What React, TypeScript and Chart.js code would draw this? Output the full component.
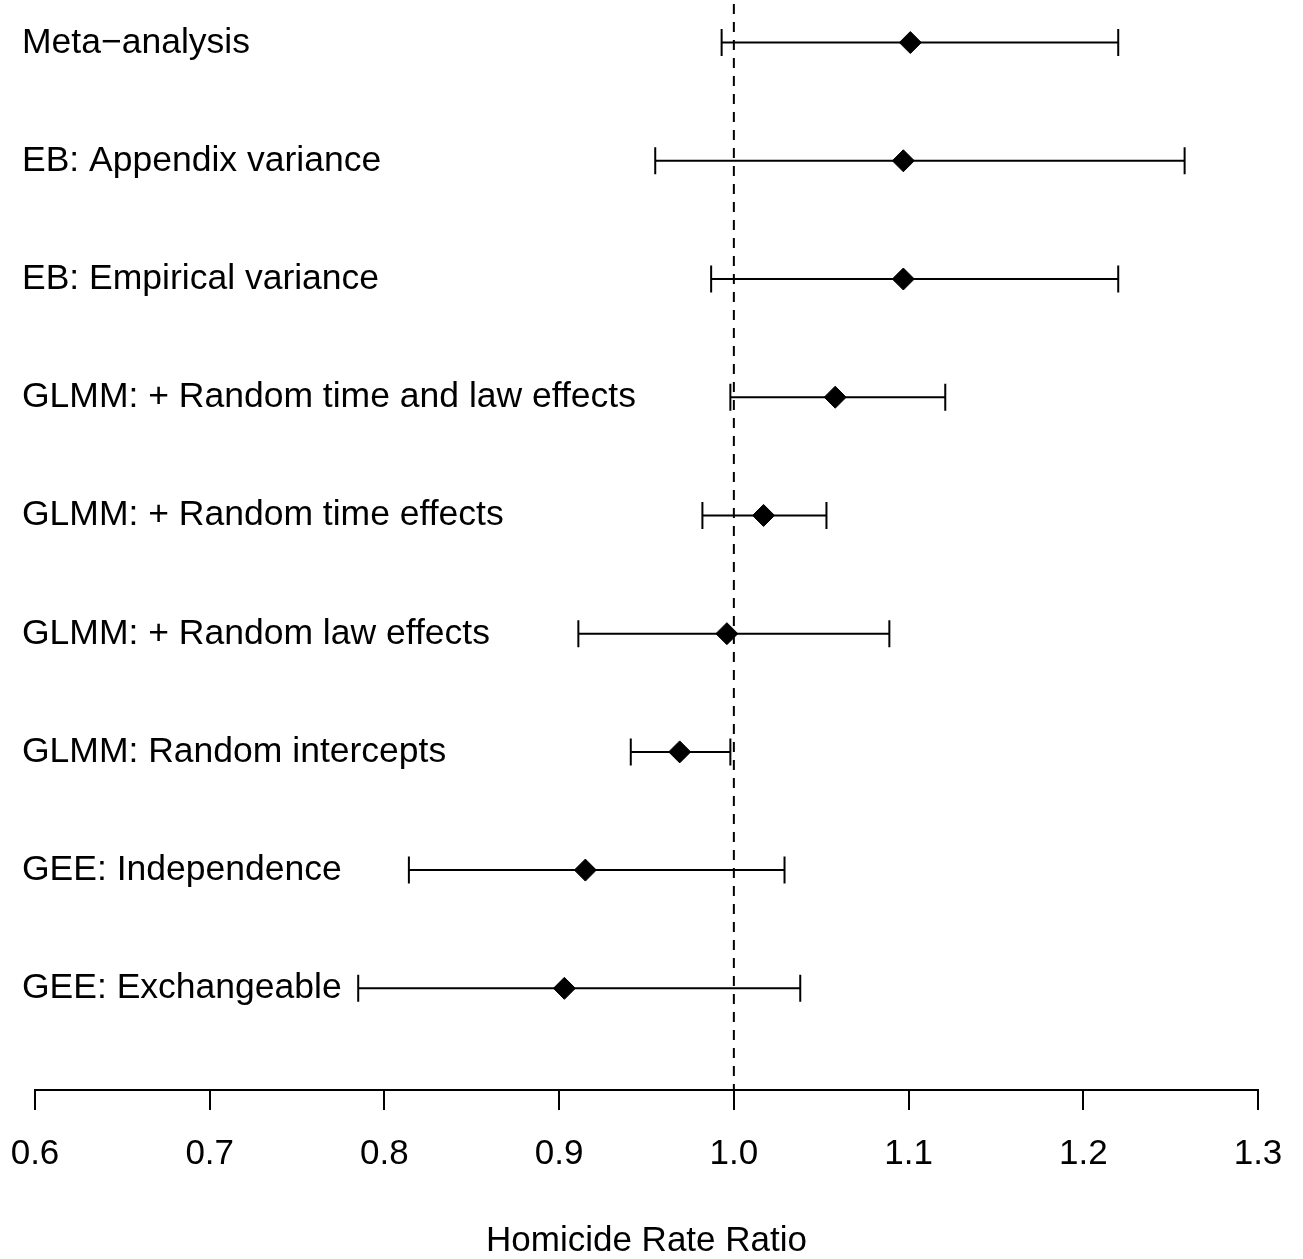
import React, { useEffect, useRef } from "react";
import { Chart, registerables } from "chart.js";

Chart.register(...registerables);

const categories: string[] = [
  "Meta\u2212analysis",
  "EB: Appendix variance",
  "EB: Empirical variance",
  "GLMM: + Random time and law effects",
  "GLMM: + Random time effects",
  "GLMM: + Random law effects",
  "GLMM: Random intercepts",
  "GEE: Independence",
  "GEE: Exchangeable",
];
const estimates: number[] = [1.101, 1.097, 1.097, 1.058, 1.017, 0.996, 0.969, 0.915, 0.903];
const lowerCI: number[] = [0.993, 0.955, 0.987, 0.998, 0.982, 0.911, 0.941, 0.814, 0.785];
const upperCI: number[] = [1.220, 1.258, 1.220, 1.121, 1.053, 1.089, 0.998, 1.029, 1.038];
const referenceValue = 1.0;
const xTicks: number[] = [0.6, 0.7, 0.8, 0.9, 1.0, 1.1, 1.2, 1.3];
const xTitle = "Homicide Rate Ratio";

const FONT = "'Liberation Sans', Arial, Helvetica, sans-serif";

const refLinePlugin = {
  id: "refLine",
  beforeDatasetsDraw(chart: any) {
    const { ctx, chartArea, scales } = chart;
    const x = scales.x.getPixelForValue(referenceValue);
    ctx.save();
    ctx.strokeStyle = "#000";
    ctx.lineWidth = 2;
    ctx.setLineDash([10, 8]);
    ctx.beginPath();
    ctx.moveTo(x, chartArea.top + 4);
    ctx.lineTo(x, chartArea.bottom);
    ctx.stroke();
    ctx.restore();
  },
};

const errorBarPlugin = {
  id: "errorBars",
  beforeDatasetsDraw(chart: any) {
    const { ctx, scales } = chart;
    ctx.save();
    ctx.strokeStyle = "#000";
    ctx.lineWidth = 2;
    ctx.setLineDash([]);
    const cap = 13.5;
    categories.forEach((_, i) => {
      const y = scales.y.getPixelForValue(i);
      const x1 = scales.x.getPixelForValue(lowerCI[i]);
      const x2 = scales.x.getPixelForValue(upperCI[i]);
      ctx.beginPath();
      ctx.moveTo(x1, y);
      ctx.lineTo(x2, y);
      ctx.moveTo(x1, y - cap);
      ctx.lineTo(x1, y + cap);
      ctx.moveTo(x2, y - cap);
      ctx.lineTo(x2, y + cap);
      ctx.stroke();
    });
    ctx.restore();
  },
};

const rowLabelPlugin = {
  id: "rowLabels",
  afterDraw(chart: any) {
    const { ctx, scales, chartArea } = chart;
    ctx.save();
    ctx.fillStyle = "#000";
    ctx.font = `35.5px ${FONT}`;
    ctx.textAlign = "left";
    ctx.textBaseline = "alphabetic";
    categories.forEach((label, i) => {
      const y = scales.y.getPixelForValue(i);
      ctx.fillText(label, chartArea.left - 13, y + 10);
    });
    ctx.restore();
  },
};

export default function App() {
  const canvasRef = useRef<HTMLCanvasElement | null>(null);

  useEffect(() => {
    if (!canvasRef.current) return;
    const chart = new Chart(canvasRef.current, {
      type: "scatter",
      data: {
        datasets: [
          {
            data: estimates.map((v, i) => ({ x: v, y: i })),
            pointStyle: "rectRot",
            pointRadius: 11,
            pointBorderWidth: 1,
            backgroundColor: "#000",
            borderColor: "#000",
            showLine: false,
            clip: false,
          },
        ],
      },
      options: {
        animation: false,
        responsive: false,
        layout: { autoPadding: false, padding: { left: 35, right: 45, top: 0, bottom: 0 } },
        plugins: {
          legend: { display: false },
          tooltip: { enabled: false },
        },
        scales: {
          x: {
            type: "linear",
            position: "bottom",
            min: xTicks[0],
            max: xTicks[xTicks.length - 1],
            afterBuildTicks: (scale: any) => {
              scale.ticks = xTicks.map((v) => ({ value: v }));
            },
            afterFit: (scale: any) => {
              scale.height = 169;
              scale.paddingLeft = 0;
              scale.paddingRight = 0;
            },
            ticks: {
              color: "#000",
              font: { family: FONT, size: 35, lineHeight: 1.2 },
              padding: 23,
              autoSkip: false,
              maxRotation: 0,
              callback: (v: any) => Number(v).toFixed(1),
            },
            grid: {
              drawOnChartArea: false,
              drawTicks: true,
              tickLength: 20,
              color: "#000",
              lineWidth: 2,
            },
            border: { display: true, color: "#000", width: 2 },
            title: {
              display: true,
              text: xTitle,
              color: "#000",
              font: { family: FONT, size: 35, lineHeight: 1 },
              padding: 0,
            },
          },
          y: {
            type: "linear",
            display: false,
            reverse: true,
            min: -0.36,
            max: 8.86,
          },
        },
      },
      plugins: [refLinePlugin, errorBarPlugin, rowLabelPlugin],
    });
    return () => chart.destroy();
  }, []);

  return (
    <div style={{ position: "absolute", left: 0, top: 0, width: 1303, height: 1259, background: "#fff" }}>
      <canvas ref={canvasRef} width={1303} height={1259} style={{ display: "block" }} />
    </div>
  );
}
